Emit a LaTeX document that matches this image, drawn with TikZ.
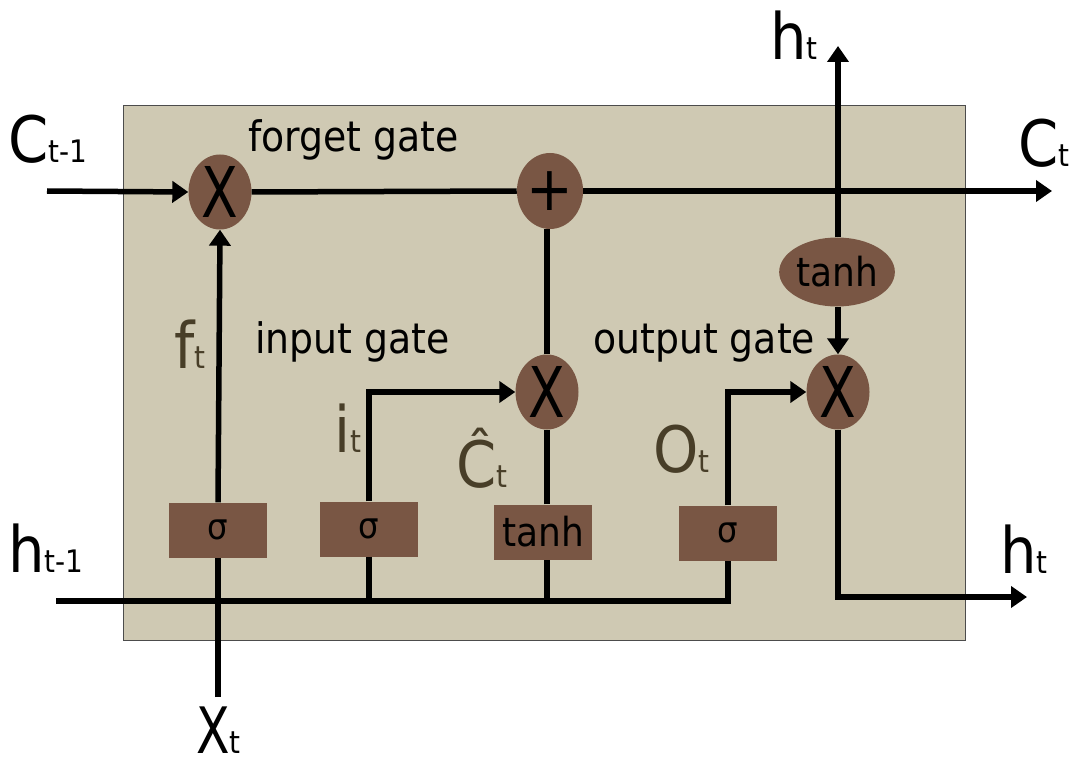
\documentclass[tikz,border=0pt]{standalone}
\usepackage{fontspec}
\usepackage{graphicx}
\setmainfont[FakeStretch=0.9]{DejaVu Sans}
\usetikzlibrary{shapes.geometric,arrows.meta}
\definecolor{bgc}{RGB}{207,201,179}
\definecolor{gatec}{RGB}{121,86,68}
\definecolor{lblc}{RGB}{72,62,40}
\newcommand\fs[1]{\fontsize{#1}{#1}\selectfont}
\newcommand\sbl[2]{#1{\fs{31}#2}}
\newcommand\nx{\scalebox{0.85}[1]{X}}
\begin{document}
\begin{tikzpicture}[x=1pt,y=-1pt,
  op/.style={ellipse,fill=gatec,inner sep=0,minimum width=63,minimum height=75,font=\fs{70}},
  gbox/.style={rectangle,fill=gatec,inner sep=0,minimum width=98,minimum height=55,font=\fs{36}},
  wire/.style={line width=5.5pt},
  arr/.style={wire,-{Triangle[length=16pt,width=21pt]}},
  biglbl/.style={font=\fs{64},inner sep=0,anchor=base west},
  olbl/.style={biglbl,text=lblc},
  gatelbl/.style={font=\fs{42},inner sep=0,anchor=base west}]
\useasboundingbox (0,0) rectangle (1075,767);
\fill[bgc,draw=black!70,line width=1pt] (123,106) rectangle (965,640);
% operators
\node[op] (fx) at (220,192) {\nx};
\node[op,font=\fs{62},minimum width=64,minimum height=76] (plus) at (550,191) {+};
\node[op,minimum width=112,minimum height=69,font=\fs{40}] (th) at (837,272) {tanh};
\node[op] (ix) at (547,392) {\nx};
\node[op] (ox) at (838,392) {\nx};
\node[gbox] (s1) at (218,530) {σ};
\node[gbox] (s2) at (369,529) {σ};
\node[gbox,font=\fs{40}] (tb) at (543,532) {tanh};
\node[gbox] (s3) at (728,533) {σ};
% free ends
\coordinate (cin) at (47,191);
\coordinate (cout) at (1052,191);
\coordinate (htop) at (838,46);
\coordinate (hin) at (56,601);
\coordinate (xin) at (218,697);
\coordinate (hout) at (1027,597);
% wires
\draw[arr] (cin) -- (fx.west);
\draw[wire] (fx.east) -- (plus.west);
\draw[arr] (plus.east) -- (cout);
\draw[arr] (th.north -| htop) -- (htop);
\draw[arr] (th.south -| ox) -- (ox.north);
\draw[wire] (ix.north) -- (ix.north |- plus.south);
\draw[wire] (tb.north -| ix) -- (ix.south);
\draw[wire] (hin -| ix) -- (tb.south -| ix);
\draw[wire] (xin) -- (s1.south);
\draw[arr] (s1.north) -- (fx.south);
\draw[wire] (hin) -| (s3.south);
\draw[wire] (s2.south) -- (s2.south |- hin);
\draw[arr] (s2.north) |- (ix.west);
\draw[arr] (s3.north) |- (ox.west);
\draw[arr] (ox.south) |- (hout);
% labels
\node[biglbl] (lc1) at (8,163) {\sbl{C}{t-1}};
\node[biglbl] (lct) at (1018,167) {\sbl{C}{t}};
\node[biglbl] (lht) at (770,60) {\sbl{h}{t}};
\node[biglbl] (lhr) at (1000,573) {\sbl{h}{t}};
\node[biglbl] (lh1) at (8,572) {\sbl{h}{t-1}};
\node[biglbl] (lxt) at (196,753) {\sbl{\nx}{t}};
\node[olbl] (lft) at (174,368) {\sbl{f}{t}};
\node[olbl] (lit) at (334,452) {\sbl{i}{t}};
\node[olbl] (lcc) at (456,487) {\sbl{Ĉ}{t}};
\node[olbl] (lot) at (653,472) {\sbl{O}{t}};
\node[gatelbl] (g1) at (248,152) {forget gate};
\node[gatelbl] (g2) at (255,353) {input gate};
\node[gatelbl] (g3) at (593,353) {output gate};
\end{tikzpicture}
\end{document}
